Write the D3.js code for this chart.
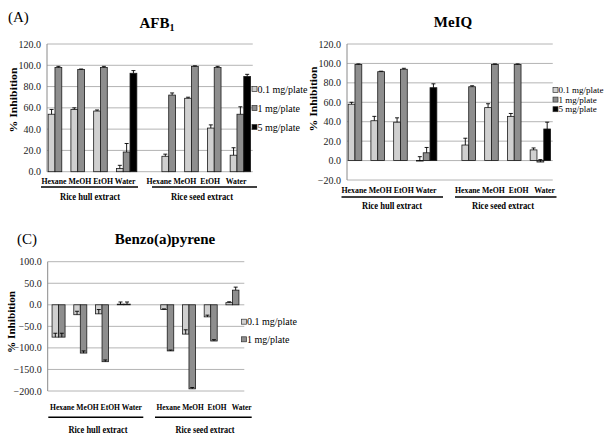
<!DOCTYPE html>
<html>
<head>
<meta charset="utf-8">
<script src="https://cdn.jsdelivr.net/npm/d3@7"></script>
<style>
  body { margin: 0; background: #fff; }
  svg, svg text { font-family: 'Liberation Serif', 'DejaVu Serif', serif; }
</style>
</head>
<body>
<svg id="chart" width="607" height="434"></svg>
<script>
// categories: 4 hull extracts, an empty slot, 4 seed extracts
const categories = ['hHexane', 'hMeOH', 'hEtOH', 'hWater', 'gap', 'sHexane', 'sMeOH', 'sEtOH', 'sWater'];
const solventLabelsHull = 'Hexane MeOH EtOH Water';
const solventLabelsSeed = 'Hexane MeOH\u00a0 EtOH\u00a0\u00a0 Water';
const groupLabels = ['Rice hull extract', 'Rice seed extract'];
const doseLabels = ['0.1 mg/plate', '1 mg/plate', '5 mg/plate'];

// AFB1
const afb01 = [54, 58.5, 57, 3, null, 14.5, 69, 41, 15.5];
const afb01Err = [4.5, 1.5, 1, 3, null, 2, 1, 3, 7];
const afb1 = [98, 96, 98, 18.5, null, 72, 99, 98, 54];
const afb1Err = [1, 0.5, 1, 8, null, 2, 0.5, 1, 7];
const afb5 = [null, null, null, 92.5, null, null, null, null, 89.5];
const afb5Err = [null, null, null, 2.5, null, null, null, null, 2];
const afbTicks = [0, 20, 40, 60, 80, 100, 120];

// MeIQ
const meiq01 = [58, 41, 39.5, -0.5, null, 16, 54.5, 45.5, 11];
const meiq01Err = [2, 4.5, 4.5, 4.5, null, 7, 4, 3, 2];
const meiq1 = [99, 91.5, 94, 8, null, 76, 99, 99, -1.5];
const meiq1Err = [0.5, 0.5, 1, 5.5, null, 1, 0.5, 0.5, 2.5];
const meiq5 = [null, null, null, 75, null, null, null, null, 32.5];
const meiq5Err = [null, null, null, 4, null, null, null, null, 7];
const meiqTicks = [-20, 0, 20, 40, 60, 80, 100, 120];

// Benzo(a)pyrene
const bap01 = [-75, -23, -21, 1.5, null, -11, -68, -28, 5];
const bap01Err = [9, 8, 10, 5, null, 1.5, 10, 4, 2];
const bap1 = [-75, -112, -132, 1.5, null, -107, -195, -84, 34];
const bap1Err = [9, 5, 4, 5, null, 2, 3, 3, 7];
const bapTicks = [-200, -150, -100, -50, 0, 50, 100];

const doseColors = ['#d0d0d0', '#8e8e8e', '#000000'];
const serif = "'Liberation Serif', 'DejaVu Serif', serif";

const svg = d3.select('#chart');

const drawPanel = (cfg) => {
  const g = svg.append('g').attr('font-family', serif);
  const x = d3.scaleBand().domain(categories).range([cfg.x0, cfg.x1]);
  const y = d3.scaleLinear().domain(cfg.domain).range([cfg.yBottom, cfg.yTop]);
  const doses = cfg.series.map((s, i) => i);
  const xSub = d3.scaleBand().domain(doses).range([0, x.bandwidth()]).paddingOuter(cfg.subPad);

  // gridlines
  g.selectAll('.grid').data(cfg.ticks).join('line')
    .attr('x1', cfg.x0).attr('x2', cfg.x1 + 1)
    .attr('y1', d => y(d)).attr('y2', d => y(d))
    .attr('stroke', '#b4b4b4').attr('stroke-width', 1);

  // y axis
  g.append('line')
    .attr('x1', cfg.x0).attr('x2', cfg.x0)
    .attr('y1', y(cfg.domain[1])).attr('y2', y(cfg.domain[0]))
    .attr('stroke', '#8a8a8a').attr('stroke-width', 1);
  g.selectAll('.tick').data(cfg.ticks).join('text')
    .attr('x', cfg.x0 - 6).attr('y', d => y(d))
    .attr('dy', '0.35em').attr('text-anchor', 'end')
    .attr('font-size', '10px').attr('fill', '#222')
    .text(d => d3.format('.1f')(d));

  // bars
  cfg.series.forEach((s, si) => {
    const pts = categories.map((c, i) => ({ c, v: s.values[i], e: s.err[i] }))
      .filter(d => d.v !== null);
    g.selectAll('.bar' + si).data(pts).join('rect')
      .attr('x', d => x(d.c) + xSub(si))
      .attr('width', xSub.bandwidth())
      .attr('y', d => Math.min(y(d.v), y(0)))
      .attr('height', d => Math.abs(y(d.v) - y(0)))
      .attr('fill', doseColors[si])
      .attr('stroke', '#1a1a1a').attr('stroke-width', 0.8);
    const cx = d => x(d.c) + xSub(si) + xSub.bandwidth() / 2;
    g.selectAll('.err' + si).data(pts).join('line')
      .attr('x1', cx).attr('x2', cx)
      .attr('y1', d => y(d.v)).attr('y2', d => y(d.v + d.e))
      .attr('stroke', '#000').attr('stroke-width', 0.9);
    g.selectAll('.cap' + si).data(pts).join('line')
      .attr('x1', d => cx(d) - 2).attr('x2', d => cx(d) + 2)
      .attr('y1', d => y(d.v + d.e)).attr('y2', d => y(d.v + d.e))
      .attr('stroke', '#000').attr('stroke-width', 0.9);
  });

  // category text under the axis
  cfg.labels.forEach((l, i) => {
    g.append('text')
      .attr('x', l.x).attr('y', cfg.labelY)
      .attr('textLength', l.w).attr('lengthAdjust', 'spacingAndGlyphs')
      .attr('font-size', '9px').attr('font-weight', 'bold')
      .style('white-space', 'pre')
      .text(i === 0 ? solventLabelsHull : solventLabelsSeed);
    g.append('line')
      .attr('x1', l.ux0).attr('x2', l.ux1)
      .attr('y1', cfg.lineY).attr('y2', cfg.lineY)
      .attr('stroke', '#000').attr('stroke-width', 1.6);
    g.append('text')
      .attr('x', l.gx).attr('y', cfg.groupY)
      .attr('text-anchor', 'middle')
      .attr('textLength', l.gw).attr('lengthAdjust', 'spacingAndGlyphs')
      .attr('font-size', '10px').attr('font-weight', 'bold')
      .text(groupLabels[i]);
  });

  // y label
  g.append('text')
    .attr('transform', `translate(${cfg.yLabelX},${cfg.yLabelY}) rotate(-90)`)
    .attr('text-anchor', 'middle')
    .attr('textLength', cfg.yLabelW).attr('lengthAdjust', 'spacingAndGlyphs')
    .attr('font-size', '10.5px').attr('font-weight', 'bold')
    .text('% Inhibition');

  // title
  const t = g.append('text')
    .attr('x', cfg.titleX).attr('y', cfg.titleY)
    .attr('text-anchor', 'middle')
    .attr('font-size', '15px').attr('font-weight', 'bold');
  t.append('tspan').text(cfg.title);
  if (cfg.sub) t.append('tspan').attr('font-size', '10px').attr('dy', '3').text(cfg.sub);

  if (cfg.tag) {
    g.append('text')
      .attr('x', cfg.tagX).attr('y', cfg.tagY)
      .attr('font-size', '15px')
      .text(cfg.tag);
  }

  // legend
  const leg = g.selectAll('.leg').data(cfg.series).join('g')
    .attr('transform', (d, i) => `translate(${cfg.legX},${cfg.legY + i * cfg.legStep})`);
  leg.append('rect')
    .attr('x', 0).attr('y', -2.5).attr('width', 5).attr('height', 5)
    .attr('fill', (d, i) => doseColors[i])
    .attr('stroke', '#333').attr('stroke-width', 0.7);
  leg.append('text')
    .attr('x', 5.5).attr('dy', '0.35em')
    .attr('font-size', cfg.legFont + 'px')
    .text((d, i) => doseLabels[i]);
};

drawPanel({
  x0: 47, x1: 251.75, domain: [0, 120], yBottom: 171.7, yTop: 44, ticks: afbTicks, subPad: 0.17,
  series: [
    { values: afb01, err: afb01Err },
    { values: afb1, err: afb1Err },
    { values: afb5, err: afb5Err }
  ],
  labels: [
    { x: 41.5, w: 94, ux0: 41, ux1: 138, gx: 90, gw: 60 },
    { x: 146.5, w: 100, ux0: 152, ux1: 257, gx: 202, gw: 62 }
  ],
  labelY: 183.5, lineY: 187, groupY: 200,
  yLabelX: 17, yLabelY: 100, yLabelW: 65,
  title: 'AFB', sub: '1', titleX: 157, titleY: 28,
  tag: '(A)', tagX: 8, tagY: 22,
  legX: 252, legY: 89, legStep: 19, legFont: 10
});

drawPanel({
  x0: 347, x1: 551.75, domain: [-20, 120], yBottom: 180, yTop: 44, ticks: meiqTicks, subPad: 0.17,
  series: [
    { values: meiq01, err: meiq01Err },
    { values: meiq1, err: meiq1Err },
    { values: meiq5, err: meiq5Err }
  ],
  labels: [
    { x: 341.5, w: 95, ux0: 341.5, ux1: 443, gx: 392, gw: 60 },
    { x: 455, w: 100, ux0: 455, ux1: 556.5, gx: 503, gw: 62 }
  ],
  labelY: 193, lineY: 197, groupY: 209,
  yLabelX: 317, yLabelY: 99, yLabelW: 65,
  title: 'MeIQ', titleX: 453, titleY: 27,
  legX: 553, legY: 90, legStep: 9.6, legFont: 9
});

drawPanel({
  x0: 47.7, x1: 243.3, domain: [-200, 100], yBottom: 391, yTop: 261.7, ticks: bapTicks, subPad: 0.67,
  series: [
    { values: bap01, err: bap01Err },
    { values: bap1, err: bap1Err }
  ],
  labels: [
    { x: 50, w: 92, ux0: 48.3, ux1: 143.3, gx: 98, gw: 59 },
    { x: 156.5, w: 95, ux0: 155, ux1: 251.7, gx: 205, gw: 59 }
  ],
  labelY: 410, lineY: 417.3, groupY: 432.5,
  yLabelX: 15, yLabelY: 322, yLabelW: 62,
  title: 'Benzo(a)pyrene', titleX: 165, titleY: 244,
  tag: '(C)', tagX: 17, tagY: 244,
  legX: 241.5, legY: 321.7, legStep: 17.6, legFont: 10
});
</script>
</body>
</html>
